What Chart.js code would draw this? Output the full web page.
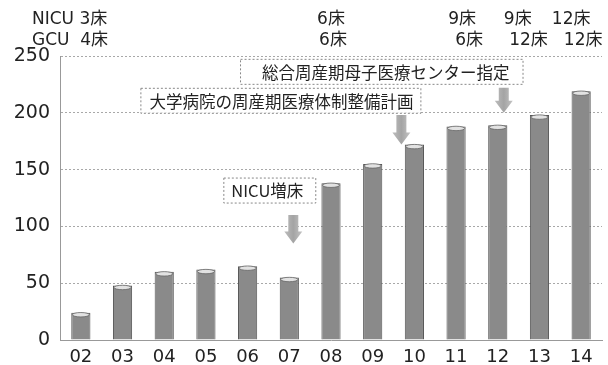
<!DOCTYPE html>
<html>
<head>
<meta charset="utf-8">
<script src="https://cdn.jsdelivr.net/npm/chart.js@4"></script>
<style>
  body { margin: 0; background: #fff; }
  #wrap { width: 608px; height: 365px; }
</style>
</head>
<body>
<div id="wrap"><canvas id="myChart"></canvas></div>
<script>
const years = ["02", "03", "04", "05", "06", "07", "08", "09", "10", "11", "12", "13", "14"];
const patients = [24, 48, 60, 62, 65, 55, 138, 155, 172, 188, 189, 198, 219];
const yTicks = [0, 50, 100, 150, 200, 250];

// bed counts shown above the plot: [label, category index, pixel shift]
const nicuBeds = [["6床", 6, 0], ["9床", 9, 6], ["9床", 10, 20], ["12床", 12, -10]];
const gcuBeds = [["6床", 6, 2], ["6床", 9, 13], ["12床", 11, -11], ["12床", 12, 2]];

// notes: text, category the arrow points at, box centre value, arrow from/to value
const notes = [
  { text: "総合周産期母子医療センター指定", cat: 10, dx: 6, boxShift: -118, boxY: 236.5, padL: 22, padR: 13, from: 222, to: 200 },
  { text: "大学病院の周産期医療体制整備計画", cat: 8, dx: -13, boxShift: -120, boxY: 211, padL: 9, padR: 7, from: 198, to: 172 },
  { text: "NICU増床", cat: 5, dx: 4, boxShift: -26, boxY: 132, padL: 8, padR: 12, from: 110, to: 85 },
];

const font = "'DejaVu Sans', 'Noto Sans CJK JP', sans-serif";
const jpFont = "'Noto Sans CJK JP', sans-serif";

const drawExtras = {
  id: "extras",
  afterDatasetsDraw(chart) {
    const ctx = chart.ctx;
    const x = chart.scales.x;
    const y = chart.scales.y;
    // light cap on each bar
    chart.getDatasetMeta(0).data.forEach((bar) => {
      ctx.save();
      ctx.fillStyle = "#e2e2e2";
      ctx.strokeStyle = "#666";
      ctx.lineWidth = 0.8;
      ctx.beginPath();
      ctx.ellipse(bar.x, bar.y + 2, bar.width / 2 - 1, 2.2, 0, 0, Math.PI * 2);
      ctx.fill();
      ctx.stroke();
      ctx.restore();
    });

    // header text
    ctx.save();
    ctx.fillStyle = "#222";
    ctx.font = "17px " + font;
    ctx.textBaseline = "middle";
    ctx.textAlign = "left";
    ctx.fillText("NICU 3床", 32, 20);
    ctx.fillText("GCU  4床", 32, 41);
    ctx.textAlign = "center";
    nicuBeds.forEach(([t, i, d]) => ctx.fillText(t, x.getPixelForValue(i) + d, 20));
    gcuBeds.forEach(([t, i, d]) => ctx.fillText(t, x.getPixelForValue(i) + d, 41));
    ctx.restore();

    // note boxes and arrows
    notes.forEach((n) => {
      const ax = x.getPixelForValue(n.cat) + n.dx;
      ctx.save();
      ctx.font = "16.5px " + jpFont;
      const tw = ctx.measureText(n.text).width;
      const cx = ax + n.boxShift;
      const cy = y.getPixelForValue(n.boxY);
      const left = cx - tw / 2 - n.padL;
      const w = tw + n.padL + n.padR;
      const h = 25;
      ctx.fillStyle = "#fff";
      ctx.fillRect(left, cy - h / 2, w, h);
      ctx.strokeStyle = "#888";
      ctx.lineWidth = 1;
      ctx.setLineDash([2, 2]);
      ctx.strokeRect(left + 0.5, cy - h / 2 + 0.5, w, h);
      ctx.setLineDash([]);
      ctx.fillStyle = "#222";
      ctx.textBaseline = "middle";
      ctx.textAlign = "left";
      ctx.fillText(n.text, left + n.padL, cy + 1);

      // arrow
      const y0 = y.getPixelForValue(n.from);
      const y1 = y.getPixelForValue(n.to);
      const head = 12;
      const g = ctx.createLinearGradient(ax - 9, 0, ax + 9, 0);
      g.addColorStop(0, "#bdbdbd");
      g.addColorStop(0.5, "#a4a4a4");
      g.addColorStop(1, "#c4c4c4");
      ctx.fillStyle = g;
      ctx.beginPath();
      ctx.moveTo(ax - 5, y0);
      ctx.lineTo(ax + 5, y0);
      ctx.lineTo(ax + 5, y1 - head);
      ctx.lineTo(ax + 9, y1 - head);
      ctx.lineTo(ax, y1);
      ctx.lineTo(ax - 9, y1 - head);
      ctx.lineTo(ax - 5, y1 - head);
      ctx.closePath();
      ctx.fill();
      ctx.restore();
    });
  },
};

const barFill = (c) => {
  const chart = c.chart;
  const bar = c.element;
  if (!chart.chartArea || !bar || !bar.width) return "#8a8a8a";
  const g = chart.ctx.createLinearGradient(bar.x - bar.width / 2, 0, bar.x + bar.width / 2, 0);
  g.addColorStop(0, "#6e6e6e");
  g.addColorStop(0.35, "#9c9c9c");
  g.addColorStop(0.6, "#929292");
  g.addColorStop(1, "#666");
  return g;
};

const ctx = document.getElementById("myChart").getContext("2d");
new Chart(ctx, {
  type: "bar",
  data: {
    labels: years,
    datasets: [
      {
        data: patients,
        backgroundColor: barFill,
        borderColor: "#555",
        borderWidth: 1,
        barPercentage: 0.46,
        categoryPercentage: 1,
      },
    ],
  },
  options: {
    responsive: true,
    maintainAspectRatio: false,
    animation: false,
    layout: { padding: { top: 56, right: 6, left: 0, bottom: 0 } },
    plugins: { legend: { display: false }, tooltip: { enabled: false } },
    scales: {
      x: {
        grid: { display: false, drawTicks: false },
        border: { color: "#999", dash: [2, 2] },
        ticks: { color: "#222", font: { family: font, size: 18 }, padding: 7 },
        afterFit: (s) => { s.height = 25; },
      },
      y: {
        min: 0,
        max: 250,
        afterBuildTicks: (s) => { s.ticks = yTicks.map((v) => ({ value: v })); },
        grid: { color: "#a8a8a8", drawTicks: false },
        border: { color: "#999", dash: [2, 2] },
        ticks: { color: "#222", font: { family: font, size: 19 }, padding: 10 },
        afterFit: (s) => { s.width = 60; },
      },
    },
  },
  plugins: [drawExtras],
});
</script>
</body>
</html>
